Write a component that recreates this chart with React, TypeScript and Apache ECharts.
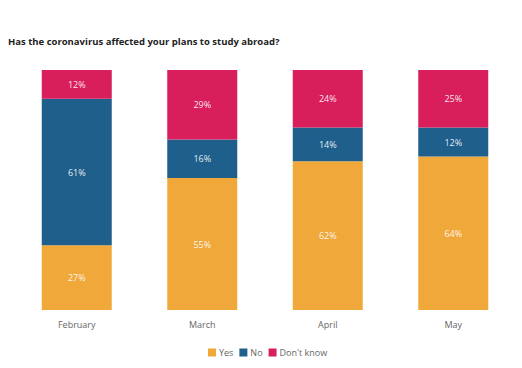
import React, { useEffect, useRef } from "react";
import * as echarts from "echarts";

const categories = ["February", "March", "April", "May"];
const yesValues = [27, 55, 62, 64];
const noValues = [61, 16, 14, 12];
const dontKnowValues = [12, 29, 24, 25];
const seriesNames = ["Yes", "No", "Don't know"];
const colors = ["#F0A83B", "#1F5F8B", "#D81E5B"];

export default function App() {
  const ref = useRef<HTMLDivElement>(null);
  useEffect(() => {
    if (!ref.current) return;
    const chart = echarts.init(ref.current, null, { renderer: "svg" });
    const font = "'Open Sans', 'Noto Sans', sans-serif";
    const mk = (name: string, data: number[], color: string) => ({
      name,
      type: "bar",
      stack: "total",
      data,
      barWidth: 70,
      itemStyle: { color },
      label: {
        show: true,
        position: "inside",
        formatter: "{c}%",
        color: "rgba(255,255,255,0.9)",
        fontSize: 9,
        fontFamily: font,
      },
    });
    chart.setOption({
      animation: false,
      backgroundColor: "#ffffff",
      title: {
        text: "Has the coronavirus affected your plans to study abroad?",
        left: 3,
        top: 31,
        textStyle: { fontSize: 9.5, fontWeight: "bold", color: "#222", fontFamily: font },
      },
      legend: {
        data: seriesNames,
        bottom: 6,
        left: 203,
        icon: "rect",
        itemWidth: 8,
        itemHeight: 8,
        itemGap: 6,
        textStyle: { fontSize: 9, color: "#666", fontFamily: font, padding: [0, 0, 0, -2] },
      },
      grid: { left: 14, right: 6, top: 70, bottom: 58 },
      xAxis: {
        type: "category",
        data: categories,
        axisLine: { show: false },
        axisTick: { show: false },
        axisLabel: { color: "#666", fontSize: 9, margin: 10, fontFamily: font },
      },
      yAxis: {
        type: "value",
        min: 0,
        max: 100,
        show: false,
      },
      series: [
        mk(seriesNames[0], yesValues, colors[0]),
        mk(seriesNames[1], noValues, colors[1]),
        mk(seriesNames[2], dontKnowValues, colors[2]),
      ],
    });
    return () => chart.dispose();
  }, []);
  return <div ref={ref} style={{ width: 522, height: 368, position: "absolute", left: 0, top: 0 }} />;
}
